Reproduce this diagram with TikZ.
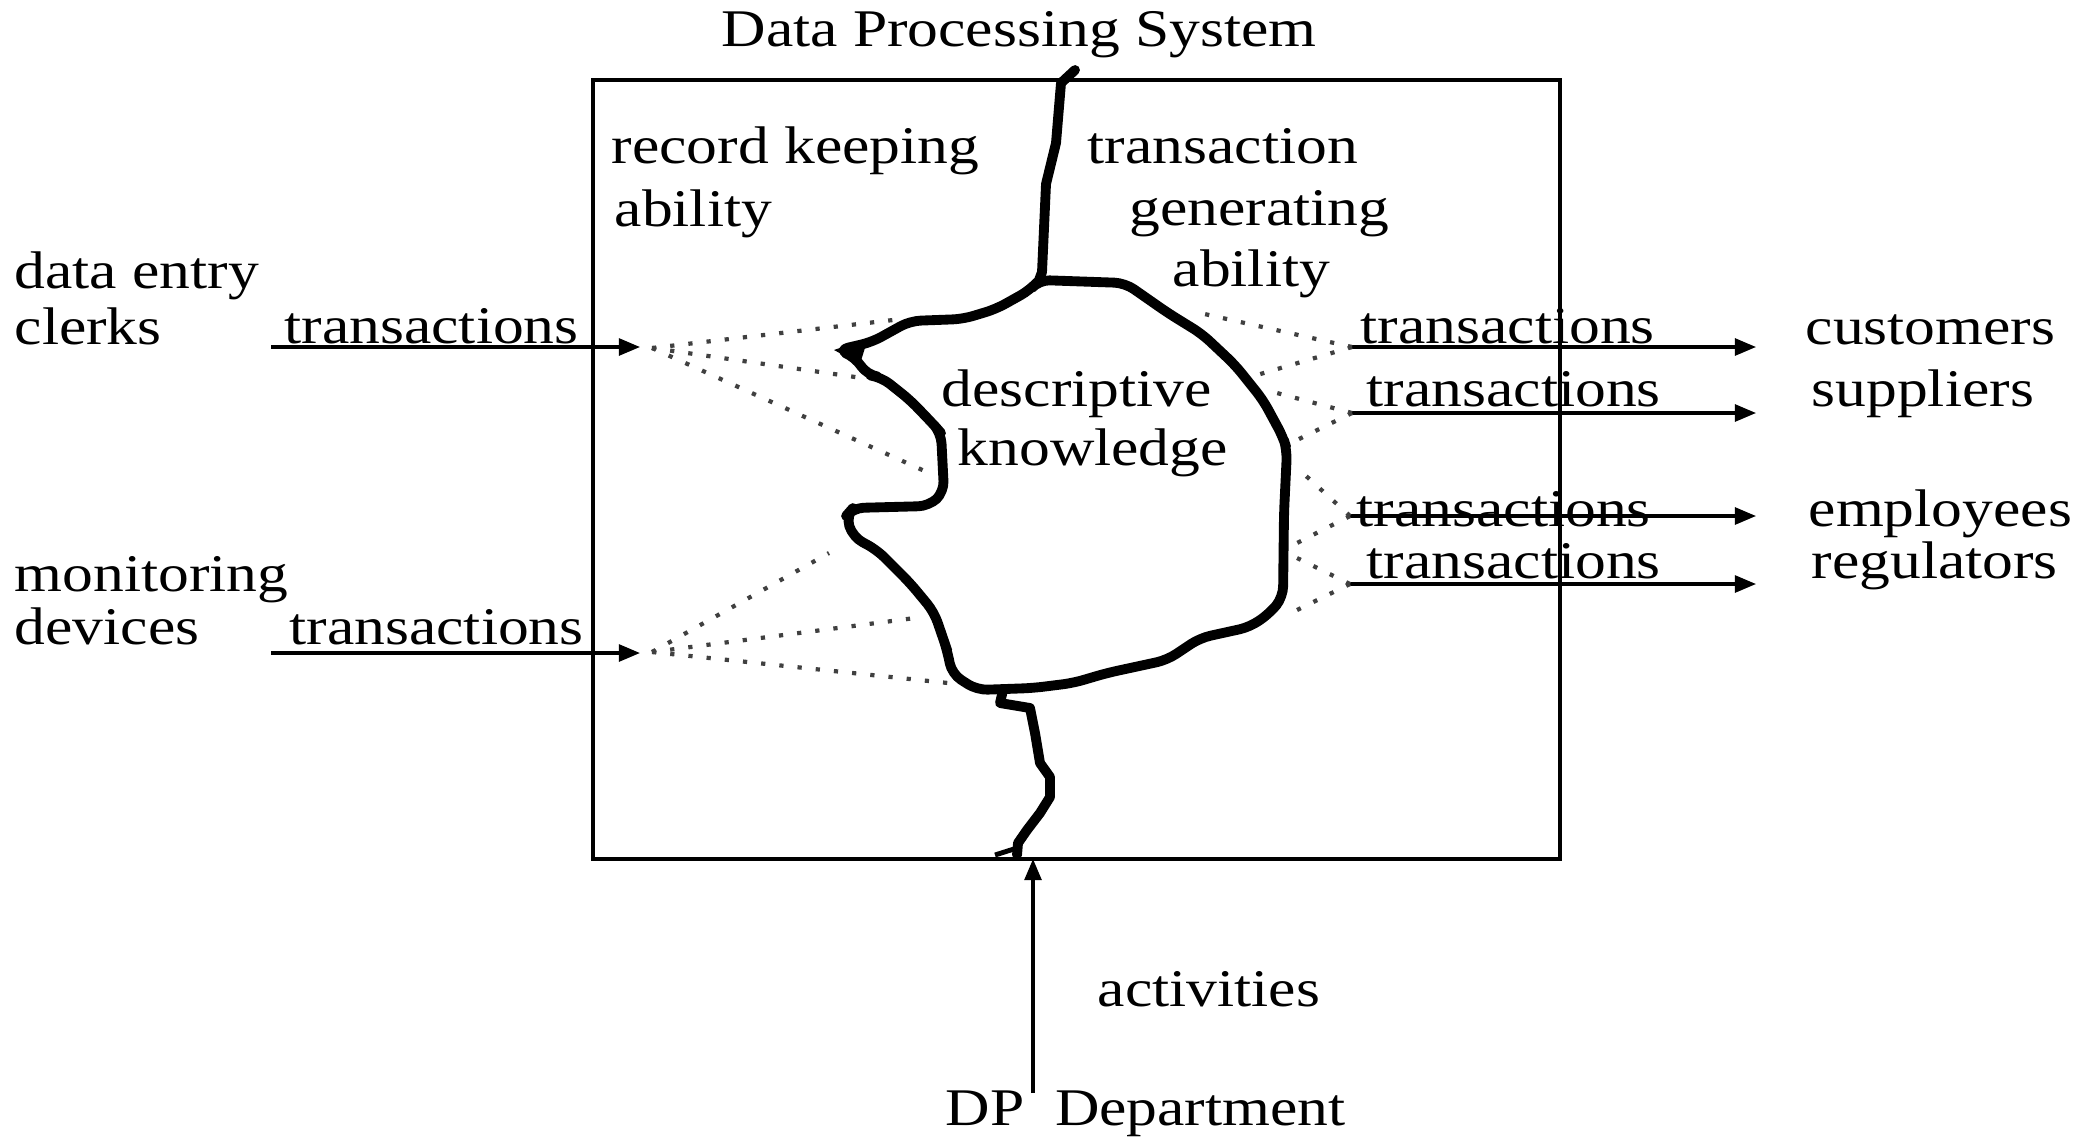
\documentclass[tikz,border=0pt]{standalone}
\usepackage{fontspec}
\setmainfont{Liberation Serif}
\usetikzlibrary{arrows.meta}
\newcommand{\vsq}[1]{\scalebox{1}[0.86]{#1}}
\begin{document}
\begin{tikzpicture}[x=0.01cm,y=-0.01cm,
  lbl/.style={inner sep=0pt, anchor=base west, font=\fontsize{17.5pt}{21pt}\selectfont},
  frame/.style={line width=1pt},
  blobline/.style={line width=2.8pt, line join=round, line cap=round},
  arr/.style={line width=0.9pt, -{Triangle[length=6pt,width=4.8pt]}},
  dots/.style={line width=1.2pt, dash pattern=on 1.2pt off 4pt, black!75}]
\useasboundingbox (0,0) rectangle (2077,1136);

% frame
\node[frame, draw, minimum width=967*0.01cm, minimum height=779*0.01cm, anchor=north west, inner sep=0pt] (box) at (591,78) {};

% title
\node[lbl, anchor=base] (title) at (1019,46) {\vsq{Data Processing System}};

% inner labels
\node[lbl] (rk1) at (611,163) {\vsq{record keeping}};
\node[lbl] (rk2) at (614,226) {\vsq{ability}};
\node[lbl] (tg1) at (1087,163) {\vsq{transaction}};
\node[lbl] (tg2) at (1129,225) {\vsq{generating}};
\node[lbl] (tg3) at (1172,286) {\vsq{ability}};
\node[lbl] (dk1) at (941,406) {\vsq{descriptive}};
\node[lbl] (dk2) at (957,465) {\vsq{knowledge}};

% left labels
\node[lbl] (de1) at (14,288) {\vsq{data entry}};
\node[lbl] (de2) at (14,344) {\vsq{clerks}};
\node[lbl] (mo1) at (14,591) {\vsq{monitoring}};
\node[lbl] (mo2) at (14,644) {\vsq{devices}};
\node[lbl] (tl1) at (284,343) {\vsq{transactions}};
\node[lbl] (tl2) at (289,644) {\vsq{transactions}};

% right labels
\node[lbl] (tr1) at (1360,343) {\vsq{transactions}};
\node[lbl] (tr2) at (1366,406) {\vsq{transactions}};
\node[lbl] (tr3) at (1356,526) {\vsq{transactions}};
\node[lbl] (tr4) at (1366,578) {\vsq{transactions}};
\node[lbl] (cu) at (1805,344) {\vsq{customers}};
\node[lbl] (su) at (1811,406) {\vsq{suppliers}};
\node[lbl] (em) at (1808,526) {\vsq{employees}};
\node[lbl] (re) at (1811,578) {\vsq{regulators}};

% bottom labels
\node[lbl] (act) at (1097,1006) {\vsq{activities}};
\node[lbl] (dp) at (945,1125) {\vsq{DP\ \ Department}};

% arrow endpoints
\coordinate (la1) at (271,347);  \coordinate (lb1) at (640,347);
\coordinate (la2) at (271,653);  \coordinate (lb2) at (640,653);
\coordinate (ra1) at (1352,347); \coordinate (rb1) at (1756,347);
\coordinate (ra2) at (1352,413); \coordinate (rb2) at (1756,413);
\coordinate (ra3) at (1350,516); \coordinate (rb3) at (1756,516);
\coordinate (ra4) at (1350,584); \coordinate (rb4) at (1756,584);
\coordinate (ba) at (1033,1093); \coordinate (bb) at (1033,859);

\draw[arr] (la1) -- (lb1);
\draw[arr] (la2) -- (lb2);
\draw[arr] (ra1) -- (rb1);
\draw[arr] (ra2) -- (rb2);
\draw[arr] (ra3) -- (rb3);
\draw[arr] (ra4) -- (rb4);
\draw[arr] (ba) -- (bb);

% dotted fans
\coordinate (L1) at (652,348);
\coordinate (L2) at (652,652);
\draw[dots] (L1) -- (893,320);
\draw[dots] (L1) -- (862,378);
\draw[dots] (L1) -- (929,473);
\draw[dots] (L2) -- (829,553);
\draw[dots] (L2) -- (915,618);
\draw[dots] (L2) -- (948,683);
\draw[dots] (ra1) -- (1200,313);
\draw[dots] (ra1) -- (1257,375);
\draw[dots] (ra2) -- (1277,393);
\draw[dots] (ra2) -- (1297,440);
\draw[dots] (ra3) -- (1305,475);
\draw[dots] (ra3) -- (1297,543);
\draw[dots] (ra4) -- (1297,558);
\draw[dots] (ra4) -- (1297,610);

% knowledge blob
\coordinate (J) at (1039,280);
\draw[blobline, rounded corners=3pt] (J) -- (1125,283) -- (1168,313) -- (1202,334) -- (1235,365) -- (1263,400)
  -- (1283,437) -- (1287,450) -- (1284,513) -- (1283,597) -- (1270,613) -- (1250,627) -- (1200,638)
  -- (1167,660) -- (1107,673) -- (1073,683) -- (1033,688) -- (977,690) -- (952,674) -- (947,650)
  -- (944,641) -- (934,612) -- (910,583) -- (877,550) -- (853,537) -- (846,516) -- (853,508)
  -- (929,506) -- (944,492) -- (941,433) -- (934,425) -- (910,400) -- (881,377) -- (867,375)
  -- (855,357) -- (838,350) -- (872,342) -- (910,321) -- (963,319) -- (996,309) -- (1030,290) -- cycle;
\fill (834,350) -- (868,338) -- (860,364) -- cycle;

% upper wavy boundary
\draw[blobline] (1075,70) -- (1061,83) -- (1056,143) -- (1046,184) -- (1042,272) -- (J);
% lower wavy boundary
\draw[blobline] (1003,690) -- (1000,703) -- (1030,708) -- (1035,733) -- (1040,763) -- (1050,777)
  -- (1050,797) -- (1040,813) -- (1027,830) -- (1018,843) -- (1017,855);
\draw[line width=1.4pt] (1017,848) -- (995,855);
\end{tikzpicture}
\end{document}
